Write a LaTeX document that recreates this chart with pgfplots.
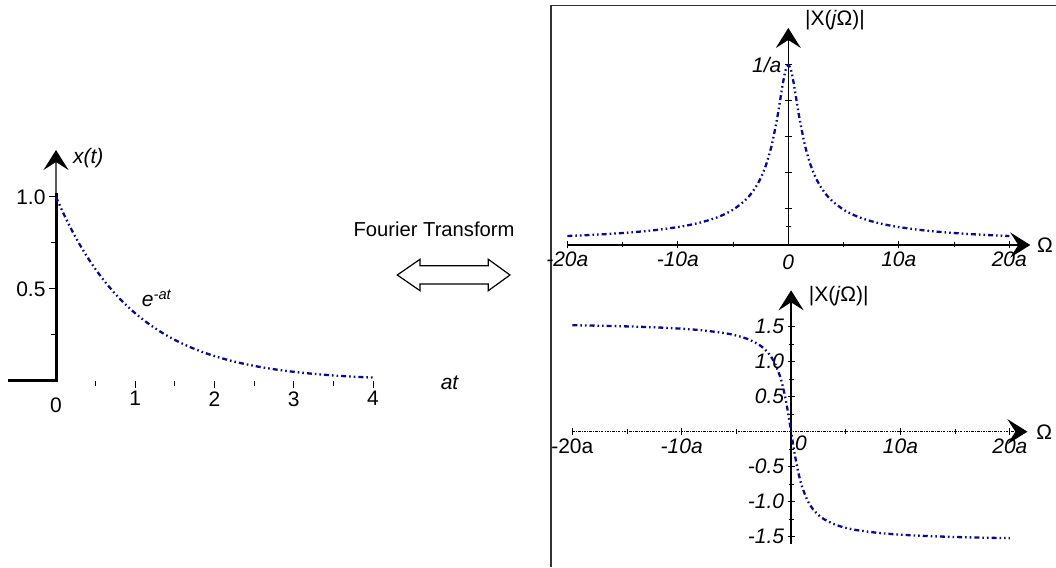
\documentclass[border=0pt]{standalone}
\usepackage{fontspec}
\setmainfont{Liberation Sans}
\usepackage{pgfplots}
\pgfplotsset{compat=1.18}
\usetikzlibrary{arrows.meta}
\definecolor{curveblue}{RGB}{10,10,140}

\pgfplotsset{
  sig/.style={curveblue, line width=2.3pt,
    dash pattern=on 5pt off 3pt on 1.6pt off 3pt on 1.6pt off 3pt},
  frame axis/.style={
    scale only axis, axis lines*=middle, clip=false,
    axis line style={black, line width=1.6pt,
      -{Stealth[length=20pt,width=25pt,inset=8pt,color=black]}},
    tick style={black, line width=1pt},
    major tick length=7pt, minor tick length=5pt,
    tick label style={font=\fontsize{21}{24}\selectfont},
  }
}

\begin{document}
\begin{tikzpicture}[font=\fontsize{21}{24}\selectfont]
\path[use as bounding box] (0pt,0pt) rectangle (1056pt,567pt);

% time signal
\begin{axis}[frame axis, at={(8.45pt,186pt)}, anchor=south west,
  width=364.6pt, height=231pt,
  xmin=-0.6, xmax=4, ymin=0, ymax=1.255,
  x axis line style={draw=none},
  y axis line style={black!65},
  tick align=outside,
  xtick={0,1,2,3,4}, xticklabels={0,1,2,3,4},
  minor xtick={0.5,1.5,2.5,3.5},
  ytick={0.5,1.0}, yticklabels={0.5,1.0},
  minor ytick={0.25,0.75}]
\addplot[black, line width=3pt] coordinates {(-0.6,0) (0,0) (0,1.02)};
\addplot[sig, smooth] coordinates {
  (0,1) (0.1,0.9048) (0.2,0.8187) (0.3,0.7408) (0.4,0.6703) (0.5,0.6065)
  (0.6,0.5488) (0.7,0.4966) (0.8,0.4493) (0.9,0.4066) (1.0,0.3679)
  (1.1,0.3329) (1.2,0.3012) (1.3,0.2725) (1.4,0.2466) (1.5,0.2231)
  (1.6,0.2019) (1.7,0.1827) (1.8,0.1653) (1.9,0.1496) (2.0,0.1353)
  (2.2,0.1108) (2.4,0.0907) (2.6,0.0743) (2.8,0.0608) (3.0,0.0498)
  (3.2,0.0408) (3.4,0.0334) (3.6,0.0273) (3.8,0.0224) (4.0,0.0183)};
\node[anchor=north] at (axis cs:0,-0.07) {0};
\node[anchor=west] at (axis cs:0.17,1.21) {\textit{x(t)}};
\node[anchor=west] at (axis cs:1.04,0.45) {\textit{e}\textsuperscript{\textit{-at}}};
\node at (axis cs:4.97,-0.01) {\textit{at}};
\end{axis}

% transform arrow
\node[font=\fontsize{20.2}{23}\selectfont] at (434pt,338pt) {Fourier Transform};
\draw[line width=1.2pt] (397.3pt,292pt) -- (420pt,307.7pt) -- (420pt,301.3pt)
  -- (488.3pt,301.3pt) -- (488.3pt,307.7pt) -- (510pt,292pt)
  -- (488.3pt,276.3pt) -- (488.3pt,283pt) -- (420pt,283pt)
  -- (420pt,276.3pt) -- cycle;

% frame
\draw[line width=1.5pt, black!80] (551pt,0pt) -- (551pt,561.5pt) -- (1056pt,561.5pt);

% magnitude
\begin{axis}[frame axis, at={(567.3pt,322pt)}, anchor=south west,
  width=463pt, height=217pt,
  xmin=-20, xmax=21.9, ymin=0, ymax=1.205,
  tick align=center,
  xtick={-20,-10,0,10,20},
  xticklabels={\textit{-20a},\textit{-10a},\textit{0},\textit{10a},\textit{20a}},
  minor xtick={-15,-5,5,15},
  ytick={0.2,0.4,0.6,0.8,1}, yticklabels={,,,,\textit{1/a}},
  minor ytick={0.1}]
\addplot[sig, smooth] coordinates {
  (-20,0.0499) (-18,0.0554) (-16,0.0623) (-14,0.0712) (-12,0.0830)
  (-10,0.0995) (-9,0.1104) (-8,0.1240) (-7,0.1414) (-6,0.1644) (-5,0.1961)
  (-4,0.2425) (-3.5,0.2747) (-3,0.3162) (-2.5,0.3714) (-2,0.4472)
  (-1.5,0.5547) (-1,0.7071) (-0.75,0.8) (-0.5,0.8944) (-0.25,0.9701) (0,1)
  (0.25,0.9701) (0.5,0.8944) (0.75,0.8) (1,0.7071) (1.5,0.5547) (2,0.4472)
  (2.5,0.3714) (3,0.3162) (3.5,0.2747) (4,0.2425) (5,0.1961) (6,0.1644)
  (7,0.1414) (8,0.1240) (9,0.1104) (10,0.0995) (12,0.0830) (14,0.0712)
  (16,0.0623) (18,0.0554) (20,0.0499)};
\node[anchor=north] at (axis cs:0,-0.035) {\textit{0}};
\node[anchor=west] at (axis cs:1.2,1.25) {|X(\textit{j}Ω)|};
\node[anchor=west] at (axis cs:22.2,0) {Ω};
\end{axis}

% phase
\begin{axis}[frame axis, at={(572.3pt,23.3pt)}, anchor=south west,
  width=455.1pt, height=253.4pt,
  xmin=-20, xmax=21.6, ymin=-1.6, ymax=2.02,
  tick align=center,
  x axis line style={line width=1.2pt,
    dash pattern=on 2.5pt off 1.2pt on 0.8pt off 1.2pt},
  xtick={-20,-10,0,10,20},
  xticklabels={-20a,\textit{-10a},,\textit{10a},\textit{20a}},
  minor xtick={-15,-5,5,15},
  ytick={-1.5,-1,-0.5,0.5,1,1.5},
  yticklabels={\textit{-1.5},\textit{-1.0},\textit{-0.5},\textit{0.5},\textit{1.0},\textit{1.5}},
  minor ytick={-1.25,-0.75,-0.25,0.25,0.75,1.25}]
\addplot[sig, smooth] coordinates {
  (-20,1.5208) (-18,1.5153) (-16,1.5084) (-14,1.4995) (-12,1.4877)
  (-10,1.4711) (-8,1.4464) (-6,1.4056) (-5,1.3734) (-4,1.3258) (-3,1.2490)
  (-2.5,1.1903) (-2,1.1071) (-1.5,0.9828) (-1,0.7854) (-0.75,0.6435)
  (-0.5,0.4636) (-0.25,0.2450) (0,0) (0.25,-0.2450) (0.5,-0.4636)
  (0.75,-0.6435) (1,-0.7854) (1.5,-0.9828) (2,-1.1071) (2.5,-1.1903)
  (3,-1.2490) (4,-1.3258) (5,-1.3734) (6,-1.4056) (8,-1.4464) (10,-1.4711)
  (12,-1.4877) (14,-1.4995) (16,-1.5084) (18,-1.5153) (20,-1.5208)};
\node at (axis cs:0.9,-0.16) {\textit{0}};
\node[anchor=west] at (axis cs:1.3,1.93) {|X(\textit{j}Ω)|};
\node[anchor=west] at (axis cs:22.1,0) {Ω};
\end{axis}
\end{tikzpicture}
\end{document}
